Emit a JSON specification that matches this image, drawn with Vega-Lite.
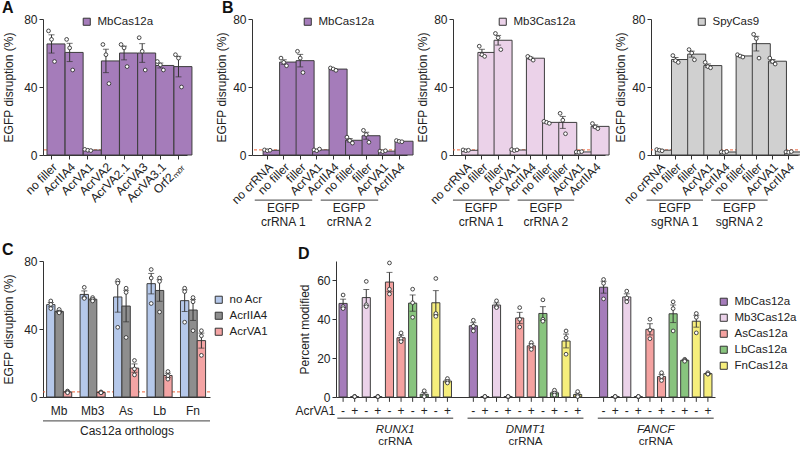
{
"$schema": "https://vega.github.io/schema/vega-lite/v6.json",
"padding": {"left": 2, "top": 0, "right": 2, "bottom": 2},
"background": "white",
"spacing": 13,
"resolve": {"scale": {"fill": "independent", "xOffset": "independent", "x": "independent", "y": "independent"}, "legend": {"fill": "independent"}},
"config": {
  "font": "Liberation Sans",
  "view": {"stroke": null},
  "axis": {"labelFontSize": 12, "titleFontSize": 12, "titleFontWeight": "normal", "labelColor": "#222", "titleColor": "#222", "domainColor": "#333", "tickColor": "#333", "grid": false, "tickSize": 4, "labelPadding": 2, "labelFont": "Liberation Sans", "titleFont": "Liberation Sans"},
  "legend": {"labelFontSize": 11.5, "symbolType": "square", "symbolSize": 50, "symbolStrokeColor": "#333", "symbolStrokeWidth": 1, "labelColor": "#222", "rowPadding": 3, "labelOffset": 5, "padding": 0, "labelFont": "Liberation Sans"},
  "title": {"fontSize": 16, "fontWeight": "bold", "anchor": "start", "offset": 6, "dy": 9, "color": "#111", "frame": "group", "baseline": "alphabetic", "font": "Liberation Sans"},
  "text": {"font": "Liberation Sans", "fontSize": 12, "color": "#222"}
},
"datasets": {
  "A": [
    {"c":"no filler","r":1,"v":73},{"c":"no filler","r":2,"v":68},{"c":"no filler","r":3,"v":55},
    {"c":"AcrIIA4","r":1,"v":68},{"c":"AcrIIA4","r":2,"v":63},{"c":"AcrIIA4","r":3,"v":50},
    {"c":"AcrVA1","r":1,"v":3.3},{"c":"AcrVA1","r":2,"v":2.8},{"c":"AcrVA1","r":3,"v":2.6},
    {"c":"AcrVA2","r":1,"v":65},{"c":"AcrVA2","r":2,"v":59},{"c":"AcrVA2","r":3,"v":42},
    {"c":"AcrVA2.1","r":1,"v":65},{"c":"AcrVA2.1","r":2,"v":63},{"c":"AcrVA2.1","r":3,"v":52},
    {"c":"AcrVA3","r":1,"v":69},{"c":"AcrVA3","r":2,"v":61},{"c":"AcrVA3","r":3,"v":50},
    {"c":"AcrVA3.1","r":1,"v":55},{"c":"AcrVA3.1","r":2,"v":53},{"c":"AcrVA3.1","r":3,"v":50},
    {"c":"Orf2ₘₒᵣ","r":1,"v":59},{"c":"Orf2ₘₒᵣ","r":2,"v":57},{"c":"Orf2ₘₒᵣ","r":3,"v":40}
  ],
  "B": [
    {"e":"MbCas12a","k":"no crRNA","r":1,"v":3},{"e":"MbCas12a","k":"no crRNA","r":2,"v":2.5},{"e":"MbCas12a","k":"no crRNA","r":3,"v":2.8},
    {"e":"MbCas12a","k":"no filler|1","r":1,"v":57},{"e":"MbCas12a","k":"no filler|1","r":2,"v":54.5},{"e":"MbCas12a","k":"no filler|1","r":3,"v":52.5},
    {"e":"MbCas12a","k":"filler|1","r":1,"v":61},{"e":"MbCas12a","k":"filler|1","r":2,"v":57},{"e":"MbCas12a","k":"filler|1","r":3,"v":48.5},
    {"e":"MbCas12a","k":"AcrVA1|1","r":1,"v":3},{"e":"MbCas12a","k":"AcrVA1|1","r":2,"v":2.5},{"e":"MbCas12a","k":"AcrVA1|1","r":3,"v":3.5},
    {"e":"MbCas12a","k":"AcrIIA4|1","r":1,"v":51.2},{"e":"MbCas12a","k":"AcrIIA4|1","r":2,"v":50.6},{"e":"MbCas12a","k":"AcrIIA4|1","r":3,"v":49.8},
    {"e":"MbCas12a","k":"no filler|2","r":1,"v":10.5},{"e":"MbCas12a","k":"no filler|2","r":2,"v":8.5},{"e":"MbCas12a","k":"no filler|2","r":3,"v":7},
    {"e":"MbCas12a","k":"filler|2","r":1,"v":14.5},{"e":"MbCas12a","k":"filler|2","r":2,"v":12},{"e":"MbCas12a","k":"filler|2","r":3,"v":7.5},
    {"e":"MbCas12a","k":"AcrVA1|2","r":1,"v":2.3},{"e":"MbCas12a","k":"AcrVA1|2","r":2,"v":2},{"e":"MbCas12a","k":"AcrVA1|2","r":3,"v":2.5},
    {"e":"MbCas12a","k":"AcrIIA4|2","r":1,"v":8.5},{"e":"MbCas12a","k":"AcrIIA4|2","r":2,"v":8},{"e":"MbCas12a","k":"AcrIIA4|2","r":3,"v":7.8},
    {"e":"Mb3Cas12a","k":"no crRNA","r":1,"v":3},{"e":"Mb3Cas12a","k":"no crRNA","r":2,"v":2.5},{"e":"Mb3Cas12a","k":"no crRNA","r":3,"v":2.8},
    {"e":"Mb3Cas12a","k":"no filler|1","r":1,"v":64},{"e":"Mb3Cas12a","k":"no filler|1","r":2,"v":59},{"e":"Mb3Cas12a","k":"no filler|1","r":3,"v":58},
    {"e":"Mb3Cas12a","k":"filler|1","r":1,"v":71.5},{"e":"Mb3Cas12a","k":"filler|1","r":2,"v":69},{"e":"Mb3Cas12a","k":"filler|1","r":3,"v":62},
    {"e":"Mb3Cas12a","k":"AcrVA1|1","r":1,"v":3.2},{"e":"Mb3Cas12a","k":"AcrVA1|1","r":2,"v":2.6},{"e":"Mb3Cas12a","k":"AcrVA1|1","r":3,"v":3},
    {"e":"Mb3Cas12a","k":"AcrIIA4|1","r":1,"v":58},{"e":"Mb3Cas12a","k":"AcrIIA4|1","r":2,"v":57},{"e":"Mb3Cas12a","k":"AcrIIA4|1","r":3,"v":55.8},
    {"e":"Mb3Cas12a","k":"no filler|2","r":1,"v":19.8},{"e":"Mb3Cas12a","k":"no filler|2","r":2,"v":19.2},{"e":"Mb3Cas12a","k":"no filler|2","r":3,"v":18.6},
    {"e":"Mb3Cas12a","k":"filler|2","r":1,"v":24.5},{"e":"Mb3Cas12a","k":"filler|2","r":2,"v":20.5},{"e":"Mb3Cas12a","k":"filler|2","r":3,"v":12.5},
    {"e":"Mb3Cas12a","k":"AcrVA1|2","r":1,"v":1.8},{"e":"Mb3Cas12a","k":"AcrVA1|2","r":2,"v":1.6},{"e":"Mb3Cas12a","k":"AcrVA1|2","r":3,"v":2},
    {"e":"Mb3Cas12a","k":"AcrIIA4|2","r":1,"v":18.5},{"e":"Mb3Cas12a","k":"AcrIIA4|2","r":2,"v":16.5},{"e":"Mb3Cas12a","k":"AcrIIA4|2","r":3,"v":15.5},
    {"e":"SpyCas9","k":"no crRNA","r":1,"v":3.2},{"e":"SpyCas9","k":"no crRNA","r":2,"v":2.8},{"e":"SpyCas9","k":"no crRNA","r":3,"v":2.5},
    {"e":"SpyCas9","k":"no filler|1","r":1,"v":58.5},{"e":"SpyCas9","k":"no filler|1","r":2,"v":55.5},{"e":"SpyCas9","k":"no filler|1","r":3,"v":54.5},
    {"e":"SpyCas9","k":"filler|1","r":1,"v":62},{"e":"SpyCas9","k":"filler|1","r":2,"v":60},{"e":"SpyCas9","k":"filler|1","r":3,"v":56},
    {"e":"SpyCas9","k":"AcrVA1|1","r":1,"v":54.5},{"e":"SpyCas9","k":"AcrVA1|1","r":2,"v":52},{"e":"SpyCas9","k":"AcrVA1|1","r":3,"v":51.3},
    {"e":"SpyCas9","k":"AcrIIA4|1","r":1,"v":1.8},{"e":"SpyCas9","k":"AcrIIA4|1","r":2,"v":1.5},{"e":"SpyCas9","k":"AcrIIA4|1","r":3,"v":2},
    {"e":"SpyCas9","k":"no filler|2","r":1,"v":59},{"e":"SpyCas9","k":"no filler|2","r":2,"v":58.2},{"e":"SpyCas9","k":"no filler|2","r":3,"v":57.6},
    {"e":"SpyCas9","k":"filler|2","r":1,"v":71},{"e":"SpyCas9","k":"filler|2","r":2,"v":68.5},{"e":"SpyCas9","k":"filler|2","r":3,"v":57},
    {"e":"SpyCas9","k":"AcrVA1|2","r":1,"v":57},{"e":"SpyCas9","k":"AcrVA1|2","r":2,"v":55},{"e":"SpyCas9","k":"AcrVA1|2","r":3,"v":53.5},
    {"e":"SpyCas9","k":"AcrIIA4|2","r":1,"v":1.8},{"e":"SpyCas9","k":"AcrIIA4|2","r":2,"v":1.6},{"e":"SpyCas9","k":"AcrIIA4|2","r":3,"v":2}
  ],
  "Bg": [
    {"t":"cr","s":"no filler|1","m":"filler|1","f":"AcrIIA4|1","l1":"EGFP","l2":"crRNA 1"},
    {"t":"cr","s":"no filler|2","m":"filler|2","f":"AcrIIA4|2","l1":"EGFP","l2":"crRNA 2"},
    {"t":"sg","s":"no filler|1","m":"filler|1","f":"AcrIIA4|1","l1":"EGFP","l2":"sgRNA 1"},
    {"t":"sg","s":"no filler|2","m":"filler|2","f":"AcrIIA4|2","l1":"EGFP","l2":"sgRNA 2"}
  ],
  "C": [
    {"o":"Mb","a":"no Acr","r":1,"v":56.5},{"o":"Mb","a":"no Acr","r":2,"v":54.5},{"o":"Mb","a":"no Acr","r":3,"v":52},
    {"o":"Mb","a":"AcrIIA4","r":1,"v":51.5},{"o":"Mb","a":"AcrIIA4","r":2,"v":50},{"o":"Mb","a":"AcrIIA4","r":3,"v":49.5},
    {"o":"Mb","a":"AcrVA1","r":1,"v":3.5},{"o":"Mb","a":"AcrVA1","r":2,"v":3},{"o":"Mb","a":"AcrVA1","r":3,"v":2.5},
    {"o":"Mb3","a":"no Acr","r":1,"v":64.5},{"o":"Mb3","a":"no Acr","r":2,"v":58.5},{"o":"Mb3","a":"no Acr","r":3,"v":58},
    {"o":"Mb3","a":"AcrIIA4","r":1,"v":58.5},{"o":"Mb3","a":"AcrIIA4","r":2,"v":57.5},{"o":"Mb3","a":"AcrIIA4","r":3,"v":56.5},
    {"o":"Mb3","a":"AcrVA1","r":1,"v":3},{"o":"Mb3","a":"AcrVA1","r":2,"v":2.5},{"o":"Mb3","a":"AcrVA1","r":3,"v":2.5},
    {"o":"As","a":"no Acr","r":1,"v":68.5},{"o":"As","a":"no Acr","r":2,"v":67},{"o":"As","a":"no Acr","r":3,"v":41},
    {"o":"As","a":"AcrIIA4","r":1,"v":64},{"o":"As","a":"AcrIIA4","r":2,"v":61.5},{"o":"As","a":"AcrIIA4","r":3,"v":35},
    {"o":"As","a":"AcrVA1","r":1,"v":21.5},{"o":"As","a":"AcrVA1","r":2,"v":16.5},{"o":"As","a":"AcrVA1","r":3,"v":13},
    {"o":"Lb","a":"no Acr","r":1,"v":75},{"o":"Lb","a":"no Acr","r":2,"v":70},{"o":"Lb","a":"no Acr","r":3,"v":55},
    {"o":"Lb","a":"AcrIIA4","r":1,"v":70},{"o":"Lb","a":"AcrIIA4","r":2,"v":68},{"o":"Lb","a":"AcrIIA4","r":3,"v":50},
    {"o":"Lb","a":"AcrVA1","r":1,"v":15},{"o":"Lb","a":"AcrVA1","r":2,"v":12.5},{"o":"Lb","a":"AcrVA1","r":3,"v":10.5},
    {"o":"Fn","a":"no Acr","r":1,"v":64},{"o":"Fn","a":"no Acr","r":2,"v":62},{"o":"Fn","a":"no Acr","r":3,"v":44},
    {"o":"Fn","a":"AcrIIA4","r":1,"v":58.5},{"o":"Fn","a":"AcrIIA4","r":2,"v":56},{"o":"Fn","a":"AcrIIA4","r":3,"v":39},
    {"o":"Fn","a":"AcrVA1","r":1,"v":39},{"o":"Fn","a":"AcrVA1","r":2,"v":36},{"o":"Fn","a":"AcrVA1","r":3,"v":24.5}
  ],
  "D": [
    {"g":"RUNX1","e":"MbCas12a","s":"Mb-","a":"-","r":1,"v":52.5},{"g":"RUNX1","e":"MbCas12a","s":"Mb-","a":"-","r":2,"v":46.5},{"g":"RUNX1","e":"MbCas12a","s":"Mb-","a":"-","r":3,"v":45.5},
    {"g":"RUNX1","e":"MbCas12a","s":"Mb+","a":"+","r":1,"v":0.3},{"g":"RUNX1","e":"MbCas12a","s":"Mb+","a":"+","r":2,"v":0.1},{"g":"RUNX1","e":"MbCas12a","s":"Mb+","a":"+","r":3,"v":0.2},
    {"g":"RUNX1","e":"Mb3Cas12a","s":"Mb3-","a":"-","r":1,"v":59.5},{"g":"RUNX1","e":"Mb3Cas12a","s":"Mb3-","a":"-","r":2,"v":47.5},{"g":"RUNX1","e":"Mb3Cas12a","s":"Mb3-","a":"-","r":3,"v":46.5},
    {"g":"RUNX1","e":"Mb3Cas12a","s":"Mb3+","a":"+","r":1,"v":0.3},{"g":"RUNX1","e":"Mb3Cas12a","s":"Mb3+","a":"+","r":2,"v":0.1},{"g":"RUNX1","e":"Mb3Cas12a","s":"Mb3+","a":"+","r":3,"v":0.2},
    {"g":"RUNX1","e":"AsCas12a","s":"As-","a":"-","r":1,"v":69},{"g":"RUNX1","e":"AsCas12a","s":"As-","a":"-","r":2,"v":55.5},{"g":"RUNX1","e":"AsCas12a","s":"As-","a":"-","r":3,"v":53},
    {"g":"RUNX1","e":"AsCas12a","s":"As+","a":"+","r":1,"v":33},{"g":"RUNX1","e":"AsCas12a","s":"As+","a":"+","r":2,"v":30},{"g":"RUNX1","e":"AsCas12a","s":"As+","a":"+","r":3,"v":28.5},
    {"g":"RUNX1","e":"LbCas12a","s":"Lb-","a":"-","r":1,"v":55.5},{"g":"RUNX1","e":"LbCas12a","s":"Lb-","a":"-","r":2,"v":48.5},{"g":"RUNX1","e":"LbCas12a","s":"Lb-","a":"-","r":3,"v":41},
    {"g":"RUNX1","e":"LbCas12a","s":"Lb+","a":"+","r":1,"v":3.2},{"g":"RUNX1","e":"LbCas12a","s":"Lb+","a":"+","r":2,"v":0.8},{"g":"RUNX1","e":"LbCas12a","s":"Lb+","a":"+","r":3,"v":0.2},
    {"g":"RUNX1","e":"FnCas12a","s":"Fn-","a":"-","r":1,"v":61},{"g":"RUNX1","e":"FnCas12a","s":"Fn-","a":"-","r":2,"v":43},{"g":"RUNX1","e":"FnCas12a","s":"Fn-","a":"-","r":3,"v":41.5},
    {"g":"RUNX1","e":"FnCas12a","s":"Fn+","a":"+","r":1,"v":9.5},{"g":"RUNX1","e":"FnCas12a","s":"Fn+","a":"+","r":2,"v":8},{"g":"RUNX1","e":"FnCas12a","s":"Fn+","a":"+","r":3,"v":7.2},
    {"g":"DNMT1","e":"MbCas12a","s":"Mb-","a":"-","r":1,"v":39.5},{"g":"DNMT1","e":"MbCas12a","s":"Mb-","a":"-","r":2,"v":36.5},{"g":"DNMT1","e":"MbCas12a","s":"Mb-","a":"-","r":3,"v":34},
    {"g":"DNMT1","e":"MbCas12a","s":"Mb+","a":"+","r":1,"v":0.2},{"g":"DNMT1","e":"MbCas12a","s":"Mb+","a":"+","r":2,"v":0.1},{"g":"DNMT1","e":"MbCas12a","s":"Mb+","a":"+","r":3,"v":0.3},
    {"g":"DNMT1","e":"Mb3Cas12a","s":"Mb3-","a":"-","r":1,"v":49.5},{"g":"DNMT1","e":"Mb3Cas12a","s":"Mb3-","a":"-","r":2,"v":46.5},{"g":"DNMT1","e":"Mb3Cas12a","s":"Mb3-","a":"-","r":3,"v":46},
    {"g":"DNMT1","e":"Mb3Cas12a","s":"Mb3+","a":"+","r":1,"v":0.2},{"g":"DNMT1","e":"Mb3Cas12a","s":"Mb3+","a":"+","r":2,"v":0.1},{"g":"DNMT1","e":"Mb3Cas12a","s":"Mb3+","a":"+","r":3,"v":0.3},
    {"g":"DNMT1","e":"AsCas12a","s":"As-","a":"-","r":1,"v":46},{"g":"DNMT1","e":"AsCas12a","s":"As-","a":"-","r":2,"v":40},{"g":"DNMT1","e":"AsCas12a","s":"As-","a":"-","r":3,"v":36},
    {"g":"DNMT1","e":"AsCas12a","s":"As+","a":"+","r":1,"v":28},{"g":"DNMT1","e":"AsCas12a","s":"As+","a":"+","r":2,"v":26.5},{"g":"DNMT1","e":"AsCas12a","s":"As+","a":"+","r":3,"v":24.5},
    {"g":"DNMT1","e":"LbCas12a","s":"Lb-","a":"-","r":1,"v":50},{"g":"DNMT1","e":"LbCas12a","s":"Lb-","a":"-","r":2,"v":40},{"g":"DNMT1","e":"LbCas12a","s":"Lb-","a":"-","r":3,"v":39},
    {"g":"DNMT1","e":"LbCas12a","s":"Lb+","a":"+","r":1,"v":3.5},{"g":"DNMT1","e":"LbCas12a","s":"Lb+","a":"+","r":2,"v":2},{"g":"DNMT1","e":"LbCas12a","s":"Lb+","a":"+","r":3,"v":1},
    {"g":"DNMT1","e":"FnCas12a","s":"Fn-","a":"-","r":1,"v":34},{"g":"DNMT1","e":"FnCas12a","s":"Fn-","a":"-","r":2,"v":30.5},{"g":"DNMT1","e":"FnCas12a","s":"Fn-","a":"-","r":3,"v":22},
    {"g":"DNMT1","e":"FnCas12a","s":"Fn+","a":"+","r":1,"v":2.8},{"g":"DNMT1","e":"FnCas12a","s":"Fn+","a":"+","r":2,"v":0.8},{"g":"DNMT1","e":"FnCas12a","s":"Fn+","a":"+","r":3,"v":0.2},
    {"g":"FANCF","e":"MbCas12a","s":"Mb-","a":"-","r":1,"v":60.5},{"g":"FANCF","e":"MbCas12a","s":"Mb-","a":"-","r":2,"v":58.5},{"g":"FANCF","e":"MbCas12a","s":"Mb-","a":"-","r":3,"v":50.5},
    {"g":"FANCF","e":"MbCas12a","s":"Mb+","a":"+","r":1,"v":0.2},{"g":"FANCF","e":"MbCas12a","s":"Mb+","a":"+","r":2,"v":0.1},{"g":"FANCF","e":"MbCas12a","s":"Mb+","a":"+","r":3,"v":0.3},
    {"g":"FANCF","e":"Mb3Cas12a","s":"Mb3-","a":"-","r":1,"v":54.5},{"g":"FANCF","e":"Mb3Cas12a","s":"Mb3-","a":"-","r":2,"v":51},{"g":"FANCF","e":"Mb3Cas12a","s":"Mb3-","a":"-","r":3,"v":49},
    {"g":"FANCF","e":"Mb3Cas12a","s":"Mb3+","a":"+","r":1,"v":0.2},{"g":"FANCF","e":"Mb3Cas12a","s":"Mb3+","a":"+","r":2,"v":0.1},{"g":"FANCF","e":"Mb3Cas12a","s":"Mb3+","a":"+","r":3,"v":0.3},
    {"g":"FANCF","e":"AsCas12a","s":"As-","a":"-","r":1,"v":40},{"g":"FANCF","e":"AsCas12a","s":"As-","a":"-","r":2,"v":34.5},{"g":"FANCF","e":"AsCas12a","s":"As-","a":"-","r":3,"v":30},
    {"g":"FANCF","e":"AsCas12a","s":"As+","a":"+","r":1,"v":12.5},{"g":"FANCF","e":"AsCas12a","s":"As+","a":"+","r":2,"v":10.5},{"g":"FANCF","e":"AsCas12a","s":"As+","a":"+","r":3,"v":8.5},
    {"g":"FANCF","e":"LbCas12a","s":"Lb-","a":"-","r":1,"v":49},{"g":"FANCF","e":"LbCas12a","s":"Lb-","a":"-","r":2,"v":45.5},{"g":"FANCF","e":"LbCas12a","s":"Lb-","a":"-","r":3,"v":34},
    {"g":"FANCF","e":"LbCas12a","s":"Lb+","a":"+","r":1,"v":19.4},{"g":"FANCF","e":"LbCas12a","s":"Lb+","a":"+","r":2,"v":18.9},{"g":"FANCF","e":"LbCas12a","s":"Lb+","a":"+","r":3,"v":18.4},
    {"g":"FANCF","e":"FnCas12a","s":"Fn-","a":"-","r":1,"v":43},{"g":"FANCF","e":"FnCas12a","s":"Fn-","a":"-","r":2,"v":41},{"g":"FANCF","e":"FnCas12a","s":"Fn-","a":"-","r":3,"v":33},
    {"g":"FANCF","e":"FnCas12a","s":"Fn+","a":"+","r":1,"v":12.5},{"g":"FANCF","e":"FnCas12a","s":"Fn+","a":"+","r":2,"v":11.8},{"g":"FANCF","e":"FnCas12a","s":"Fn+","a":"+","r":3,"v":11.8}
  ],
  "Dg": [{"g":"RUNX1"},{"g":"DNMT1"},{"g":"FANCF"}]
},
"vconcat": [
 {"hconcat": [
  {"width": 144, "height": 136,
   "title": {"text": "A", "dx": -41},
   "layer": [
    {"data": {"values": [{}]}, "mark": {"type": "rule", "color": "#f0643a", "strokeDash": [3, 2]}, "encoding": {"y": {"datum": 3}}},
    {"data": {"name": "A"},
     "layer": [
      {"mark": {"type": "bar", "stroke": "#3d3d3d", "strokeWidth": 1},
       "encoding": {
        "x": {"field": "c", "type": "nominal", "scale": {"domain": ["no filler","AcrIIA4","AcrVA1","AcrVA2","AcrVA2.1","AcrVA3","AcrVA3.1","Orf2ₘₒᵣ"], "paddingInner": 0.5, "paddingOuter": 0.22}, "axis": {"title": null, "labelAngle": -45}},
        "y": {"aggregate": "mean", "field": "v", "type": "quantitative", "scale": {"domain": [0, 80], "nice": false}, "axis": {"title": "EGFP disruption (%)", "values": [0,10,20,30,40,50,60,70,80], "labelExpr": "datum.value % 20 === 0 ? datum.label : ''", "titlePadding": 8}},
        "fill": {"datum": "MbCas12a", "scale": {"range": ["#a57cba"]}, "legend": {"title": null, "orient": "none", "legendX": 38, "legendY": -3}}}},
      {"transform": [{"aggregate": [{"op": "mean", "field": "v", "as": "m"}, {"op": "stderr", "field": "v", "as": "se"}], "groupby": ["c"]}, {"calculate": "datum.m - datum.se", "as": "lo"}, {"calculate": "datum.m + datum.se", "as": "hi"}],
       "layer": [
        {"mark": {"type": "rule", "color": "#333"}, "encoding": {"x": {"field": "c", "type": "nominal"}, "y": {"field": "lo", "type": "quantitative"}, "y2": {"field": "hi"}}},
        {"mark": {"type": "tick", "color": "#333", "size": 6, "thickness": 1}, "encoding": {"x": {"field": "c", "type": "nominal"}, "y": {"field": "hi", "type": "quantitative"}}},
        {"mark": {"type": "tick", "color": "#333", "size": 6, "thickness": 1}, "encoding": {"x": {"field": "c", "type": "nominal"}, "y": {"field": "lo", "type": "quantitative"}}}
       ]},
      {"mark": {"type": "point", "filled": true, "fill": "white", "stroke": "#333", "strokeWidth": 0.9, "size": 14, "opacity": 1},
       "encoding": {"x": {"field": "c", "type": "nominal"}, "xOffset": {"field": "r", "type": "nominal", "scale": {"paddingOuter": 0.5}}, "y": {"field": "v", "type": "quantitative"}}}
     ]}
   ]},
  {"hconcat": [
   {"width": 155, "height": 136,
    "title": {"text": "B", "dx": -30},
    "layer": [
     {"data": {"values": [{}]}, "mark": {"type": "rule", "color": "#f0643a", "strokeDash": [3, 2]}, "encoding": {"y": {"datum": 3}}},
     {"data": {"name": "B"}, "transform": [{"filter": "datum.e === 'MbCas12a'"}],
      "layer": [
       {"mark": {"type": "bar", "stroke": "#3d3d3d", "strokeWidth": 1},
        "encoding": {
         "x": {"field": "k", "type": "nominal", "scale": {"domain": ["no crRNA","no filler|1","filler|1","AcrVA1|1","AcrIIA4|1","no filler|2","filler|2","AcrVA1|2","AcrIIA4|2"], "paddingInner": 0.5, "paddingOuter": 0.45, "align": 0.75}, "axis": {"title": null, "labelAngle": -45, "labelExpr": "split(datum.label, '|')[0]"}},
         "y": {"aggregate": "mean", "field": "v", "type": "quantitative", "scale": {"domain": [0, 80], "nice": false}, "axis": {"title": "EGFP disruption (%)", "values": [0,10,20,30,40,50,60,70,80], "labelExpr": "datum.value % 20 === 0 ? datum.label : ''", "titlePadding": 4}},
         "fill": {"datum": "MbCas12a", "scale": {"range": ["#a57cba"]}, "legend": {"title": null, "orient": "none", "legendX": 50, "legendY": -3}}}},
       {"transform": [{"aggregate": [{"op": "mean", "field": "v", "as": "m"}, {"op": "stderr", "field": "v", "as": "se"}], "groupby": ["k"]}, {"calculate": "datum.m - datum.se", "as": "lo"}, {"calculate": "datum.m + datum.se", "as": "hi"}],
        "layer": [
         {"mark": {"type": "rule", "color": "#333"}, "encoding": {"x": {"field": "k", "type": "nominal"}, "y": {"field": "lo", "type": "quantitative"}, "y2": {"field": "hi"}}},
         {"mark": {"type": "tick", "color": "#333", "size": 6, "thickness": 1}, "encoding": {"x": {"field": "k", "type": "nominal"}, "y": {"field": "hi", "type": "quantitative"}}},
         {"mark": {"type": "tick", "color": "#333", "size": 6, "thickness": 1}, "encoding": {"x": {"field": "k", "type": "nominal"}, "y": {"field": "lo", "type": "quantitative"}}}
        ]},
       {"mark": {"type": "point", "filled": true, "fill": "white", "stroke": "#333", "strokeWidth": 0.9, "size": 14, "opacity": 1},
        "encoding": {"x": {"field": "k", "type": "nominal"}, "xOffset": {"field": "r", "type": "nominal", "scale": {"paddingOuter": 0.5}}, "y": {"field": "v", "type": "quantitative"}}}
      ]},
     {"data": {"name": "Bg"}, "transform": [{"filter": "datum.t === 'cr'"}],
      "layer": [
       {"mark": {"type": "rule", "color": "#666", "strokeWidth": 1.3, "xOffset": -29, "x2Offset": -21}, "encoding": {"x": {"field": "s", "type": "nominal"}, "x2": {"field": "f"}, "y": {"datum": -26.5}}},
       {"mark": {"type": "text", "dx": -17}, "encoding": {"x": {"field": "m", "type": "nominal"}, "y": {"datum": -31}, "text": {"field": "l1"}}},
       {"mark": {"type": "text", "dx": -17}, "encoding": {"x": {"field": "m", "type": "nominal"}, "y": {"datum": -39.5}, "text": {"field": "l2"}}}
      ]}
    ]},
   {"width": 152, "height": 136,
    "layer": [
     {"data": {"values": [{}]}, "mark": {"type": "rule", "color": "#f0643a", "strokeDash": [3, 2]}, "encoding": {"y": {"datum": 3}}},
     {"data": {"name": "B"}, "transform": [{"filter": "datum.e === 'Mb3Cas12a'"}],
      "layer": [
       {"mark": {"type": "bar", "stroke": "#3d3d3d", "strokeWidth": 1},
        "encoding": {
         "x": {"field": "k", "type": "nominal", "scale": {"domain": ["no crRNA","no filler|1","filler|1","AcrVA1|1","AcrIIA4|1","no filler|2","filler|2","AcrVA1|2","AcrIIA4|2"], "paddingInner": 0.5, "paddingOuter": 0.45, "align": 0.6}, "axis": {"title": null, "labelAngle": -45, "labelExpr": "split(datum.label, '|')[0]"}},
         "y": {"aggregate": "mean", "field": "v", "type": "quantitative", "scale": {"domain": [0, 80], "nice": false}, "axis": {"title": "EGFP disruption (%)", "values": [0,10,20,30,40,50,60,70,80], "labelExpr": "datum.value % 20 === 0 ? datum.label : ''", "titlePadding": 4}},
         "fill": {"datum": "Mb3Cas12a", "scale": {"range": ["#ebd2e9"]}, "legend": {"title": null, "orient": "none", "legendX": 44, "legendY": -3}}}},
       {"transform": [{"aggregate": [{"op": "mean", "field": "v", "as": "m"}, {"op": "stderr", "field": "v", "as": "se"}], "groupby": ["k"]}, {"calculate": "datum.m - datum.se", "as": "lo"}, {"calculate": "datum.m + datum.se", "as": "hi"}],
        "layer": [
         {"mark": {"type": "rule", "color": "#333"}, "encoding": {"x": {"field": "k", "type": "nominal"}, "y": {"field": "lo", "type": "quantitative"}, "y2": {"field": "hi"}}},
         {"mark": {"type": "tick", "color": "#333", "size": 6, "thickness": 1}, "encoding": {"x": {"field": "k", "type": "nominal"}, "y": {"field": "hi", "type": "quantitative"}}},
         {"mark": {"type": "tick", "color": "#333", "size": 6, "thickness": 1}, "encoding": {"x": {"field": "k", "type": "nominal"}, "y": {"field": "lo", "type": "quantitative"}}}
        ]},
       {"mark": {"type": "point", "filled": true, "fill": "white", "stroke": "#333", "strokeWidth": 0.9, "size": 14, "opacity": 1},
        "encoding": {"x": {"field": "k", "type": "nominal"}, "xOffset": {"field": "r", "type": "nominal", "scale": {"paddingOuter": 0.5}}, "y": {"field": "v", "type": "quantitative"}}}
      ]},
     {"data": {"name": "Bg"}, "transform": [{"filter": "datum.t === 'cr'"}],
      "layer": [
       {"mark": {"type": "rule", "color": "#666", "strokeWidth": 1.3, "xOffset": -29, "x2Offset": -21}, "encoding": {"x": {"field": "s", "type": "nominal"}, "x2": {"field": "f"}, "y": {"datum": -26.5}}},
       {"mark": {"type": "text", "dx": -17}, "encoding": {"x": {"field": "m", "type": "nominal"}, "y": {"datum": -31}, "text": {"field": "l1"}}},
       {"mark": {"type": "text", "dx": -17}, "encoding": {"x": {"field": "m", "type": "nominal"}, "y": {"datum": -39.5}, "text": {"field": "l2"}}}
      ]}
    ]},
   {"width": 147, "height": 136,
    "layer": [
     {"data": {"values": [{}]}, "mark": {"type": "rule", "color": "#f0643a", "strokeDash": [3, 2]}, "encoding": {"y": {"datum": 3}}},
     {"data": {"name": "B"}, "transform": [{"filter": "datum.e === 'SpyCas9'"}],
      "layer": [
       {"mark": {"type": "bar", "stroke": "#3d3d3d", "strokeWidth": 1},
        "encoding": {
         "x": {"field": "k", "type": "nominal", "scale": {"domain": ["no crRNA","no filler|1","filler|1","AcrVA1|1","AcrIIA4|1","no filler|2","filler|2","AcrVA1|2","AcrIIA4|2"], "paddingInner": 0.5, "paddingOuter": 0.3, "align": 0.45}, "axis": {"title": null, "labelAngle": -45, "labelExpr": "split(datum.label, '|')[0]"}},
         "y": {"aggregate": "mean", "field": "v", "type": "quantitative", "scale": {"domain": [0, 80], "nice": false}, "axis": {"title": "EGFP disruption (%)", "values": [0,10,20,30,40,50,60,70,80], "labelExpr": "datum.value % 20 === 0 ? datum.label : ''", "titlePadding": 4}},
         "fill": {"datum": "SpyCas9", "scale": {"range": ["#d0d0d0"]}, "legend": {"title": null, "orient": "none", "legendX": 45, "legendY": -3}}}},
       {"transform": [{"aggregate": [{"op": "mean", "field": "v", "as": "m"}, {"op": "stderr", "field": "v", "as": "se"}], "groupby": ["k"]}, {"calculate": "datum.m - datum.se", "as": "lo"}, {"calculate": "datum.m + datum.se", "as": "hi"}],
        "layer": [
         {"mark": {"type": "rule", "color": "#333"}, "encoding": {"x": {"field": "k", "type": "nominal"}, "y": {"field": "lo", "type": "quantitative"}, "y2": {"field": "hi"}}},
         {"mark": {"type": "tick", "color": "#333", "size": 6, "thickness": 1}, "encoding": {"x": {"field": "k", "type": "nominal"}, "y": {"field": "hi", "type": "quantitative"}}},
         {"mark": {"type": "tick", "color": "#333", "size": 6, "thickness": 1}, "encoding": {"x": {"field": "k", "type": "nominal"}, "y": {"field": "lo", "type": "quantitative"}}}
        ]},
       {"mark": {"type": "point", "filled": true, "fill": "white", "stroke": "#333", "strokeWidth": 0.9, "size": 14, "opacity": 1},
        "encoding": {"x": {"field": "k", "type": "nominal"}, "xOffset": {"field": "r", "type": "nominal", "scale": {"paddingOuter": 0.5}}, "y": {"field": "v", "type": "quantitative"}}}
      ]},
     {"data": {"name": "Bg"}, "transform": [{"filter": "datum.t === 'sg'"}],
      "layer": [
       {"mark": {"type": "rule", "color": "#666", "strokeWidth": 1.3, "xOffset": -29, "x2Offset": -21}, "encoding": {"x": {"field": "s", "type": "nominal"}, "x2": {"field": "f"}, "y": {"datum": -26.5}}},
       {"mark": {"type": "text", "dx": -17}, "encoding": {"x": {"field": "m", "type": "nominal"}, "y": {"datum": -31}, "text": {"field": "l1"}}},
       {"mark": {"type": "text", "dx": -17}, "encoding": {"x": {"field": "m", "type": "nominal"}, "y": {"datum": -39.5}, "text": {"field": "l2"}}}
      ]}
    ]}
  ], "spacing": 46, "bounds": "flush", "resolve": {"scale": {"fill": "independent", "xOffset": "independent", "x": "independent", "y": "independent"}, "legend": {"fill": "independent"}}}
 ], "spacing": 65, "bounds": "flush", "resolve": {"scale": {"fill": "independent", "xOffset": "independent", "x": "independent", "y": "independent"}, "legend": {"fill": "independent"}}},
 {"hconcat": [
  {"width": 167, "height": 136,
   "title": {"text": "C", "dx": -41},
   "layer": [
    {"data": {"values": [{}]}, "mark": {"type": "rule", "color": "#f0643a", "strokeDash": [3, 2]}, "encoding": {"y": {"datum": 3}}},
    {"data": {"values": [{}]}, "mark": {"type": "rule", "color": "#666", "strokeWidth": 1.3}, "encoding": {"y": {"datum": -14.1}}},
    {"data": {"name": "C"},
     "layer": [
      {"mark": {"type": "bar", "stroke": "#3d3d3d", "strokeWidth": 1},
       "encoding": {
        "x": {"field": "o", "type": "nominal", "scale": {"domain": ["Mb","Mb3","As","Lb","Fn"], "paddingInner": 0.25, "paddingOuter": 0.12, "align": 0.45}, "axis": {"title": "Cas12a orthologs", "labelAngle": 0, "ticks": false, "labelPadding": 8, "titlePadding": 9}},
        "xOffset": {"field": "a", "type": "nominal", "scale": {"domain": ["no Acr","AcrIIA4","AcrVA1"], "paddingInner": 0, "paddingOuter": 0}},
        "y": {"aggregate": "mean", "field": "v", "type": "quantitative", "scale": {"domain": [0, 80], "nice": false}, "axis": {"title": "EGFP disruption (%)", "values": [0,10,20,30,40,50,60,70,80], "labelExpr": "datum.value % 20 === 0 ? datum.label : ''", "titlePadding": 8}},
        "fill": {"field": "a", "type": "nominal", "scale": {"domain": ["no Acr","AcrIIA4","AcrVA1"], "range": ["#b5c8ea","#8e8e8e","#f4a4a4"]}, "legend": {"title": null, "orient": "none", "legendX": 170, "legendY": 33, "labelFontSize": 11.5}}}},
      {"transform": [{"aggregate": [{"op": "mean", "field": "v", "as": "m"}, {"op": "stderr", "field": "v", "as": "se"}], "groupby": ["o", "a"]}, {"calculate": "datum.m - datum.se", "as": "lo"}, {"calculate": "datum.m + datum.se", "as": "hi"}],
       "layer": [
        {"mark": {"type": "rule", "color": "#333"}, "encoding": {"x": {"field": "o", "type": "nominal"}, "xOffset": {"field": "a", "type": "nominal"}, "y": {"field": "lo", "type": "quantitative"}, "y2": {"field": "hi"}}},
        {"mark": {"type": "tick", "color": "#333", "size": 6, "thickness": 1}, "encoding": {"x": {"field": "o", "type": "nominal"}, "xOffset": {"field": "a", "type": "nominal"}, "y": {"field": "hi", "type": "quantitative"}}},
        {"mark": {"type": "tick", "color": "#333", "size": 6, "thickness": 1}, "encoding": {"x": {"field": "o", "type": "nominal"}, "xOffset": {"field": "a", "type": "nominal"}, "y": {"field": "lo", "type": "quantitative"}}}
       ]},
      {"mark": {"type": "point", "filled": true, "fill": "white", "stroke": "#333", "strokeWidth": 0.9, "size": 14, "opacity": 1},
       "encoding": {"x": {"field": "o", "type": "nominal"}, "xOffset": {"field": "a", "type": "nominal"}, "y": {"field": "v", "type": "quantitative"}}}
     ]}
   ]},
  {"width": 379, "height": 136,
   "title": {"text": "D", "dx": -38},
   "layer": [
    {"data": {"name": "D"},
     "layer": [
      {"mark": {"type": "bar", "stroke": "#3d3d3d", "strokeWidth": 1},
       "encoding": {
        "x": {"field": "g", "type": "nominal", "scale": {"domain": ["RUNX1","DNMT1","FANCF"], "paddingInner": 0.11, "paddingOuter": 0.01}, "axis": {"title": null, "labels": false, "ticks": false}},
        "xOffset": {"field": "s", "type": "nominal", "scale": {"domain": ["Mb-","Mb+","Mb3-","Mb3+","As-","As+","Lb-","Lb+","Fn-","Fn+"], "paddingInner": 0.3, "paddingOuter": 0.15}},
        "y": {"aggregate": "mean", "field": "v", "type": "quantitative", "scale": {"domain": [0, 70], "nice": false}, "axis": {"title": "Percent modified", "values": [0,10,20,30,40,50,60,70], "labelExpr": "datum.value % 20 === 0 ? datum.label : ''", "titlePadding": 5}},
        "fill": {"field": "e", "type": "nominal", "scale": {"domain": ["MbCas12a","Mb3Cas12a","AsCas12a","LbCas12a","FnCas12a"], "range": ["#a57cba","#ebd2e9","#f4a2a0","#88c47e","#f6ee7c"]}, "legend": {"title": null, "orient": "none", "legendX": 382, "legendY": 35, "labelFontSize": 11.5}}}},
      {"transform": [{"aggregate": [{"op": "mean", "field": "v", "as": "m"}, {"op": "stderr", "field": "v", "as": "se"}], "groupby": ["g", "s", "a"]}, {"calculate": "datum.m - datum.se", "as": "lo"}, {"calculate": "datum.m + datum.se", "as": "hi"}],
       "layer": [
        {"mark": {"type": "rule", "color": "#333"}, "encoding": {"x": {"field": "g", "type": "nominal"}, "xOffset": {"field": "s", "type": "nominal"}, "y": {"field": "lo", "type": "quantitative"}, "y2": {"field": "hi"}}},
        {"mark": {"type": "tick", "color": "#333", "size": 6, "thickness": 1}, "encoding": {"x": {"field": "g", "type": "nominal"}, "xOffset": {"field": "s", "type": "nominal"}, "y": {"field": "hi", "type": "quantitative"}}},
        {"mark": {"type": "tick", "color": "#333", "size": 6, "thickness": 1}, "encoding": {"x": {"field": "g", "type": "nominal"}, "xOffset": {"field": "s", "type": "nominal"}, "y": {"field": "lo", "type": "quantitative"}}},
        {"mark": {"type": "rule", "color": "#333"}, "encoding": {"x": {"field": "g", "type": "nominal"}, "xOffset": {"field": "s", "type": "nominal"}, "y": {"datum": 0}, "y2": {"datum": -2.5}}},
        {"mark": {"type": "text", "fontSize": 12, "baseline": "middle"}, "encoding": {"x": {"field": "g", "type": "nominal"}, "xOffset": {"field": "s", "type": "nominal"}, "y": {"datum": -7.2}, "text": {"field": "a"}}}
       ]},
      {"mark": {"type": "point", "filled": true, "fill": "white", "stroke": "#333", "strokeWidth": 0.9, "size": 14, "opacity": 1},
       "encoding": {"x": {"field": "g", "type": "nominal"}, "xOffset": {"field": "s", "type": "nominal"}, "y": {"field": "v", "type": "quantitative"}}}
     ]},
    {"data": {"name": "Dg"},
     "layer": [
      {"mark": {"type": "bar", "color": "#777"}, "encoding": {"x": {"field": "g", "type": "nominal"}, "y": {"datum": -10.6}, "y2": {"datum": -11.3}}},
      {"mark": {"type": "text", "fontStyle": "italic", "baseline": "middle", "fontSize": 11.5}, "encoding": {"x": {"field": "g", "type": "nominal"}, "y": {"datum": -16.8}, "text": {"field": "g"}}},
      {"mark": {"type": "text", "baseline": "middle", "fontSize": 11.5}, "encoding": {"x": {"field": "g", "type": "nominal"}, "y": {"datum": -23.4}, "text": {"value": "crRNA"}}}
     ]},
    {"data": {"values": [{}]}, "mark": {"type": "text", "align": "right", "baseline": "middle", "dx": -60}, "encoding": {"x": {"datum": "RUNX1"}, "y": {"datum": -7.2}, "text": {"value": "AcrVA1"}}}
   ]}
 ], "spacing": 126, "bounds": "flush", "resolve": {"scale": {"fill": "independent", "xOffset": "independent", "x": "independent", "y": "independent"}, "legend": {"fill": "independent"}}}
]
}
